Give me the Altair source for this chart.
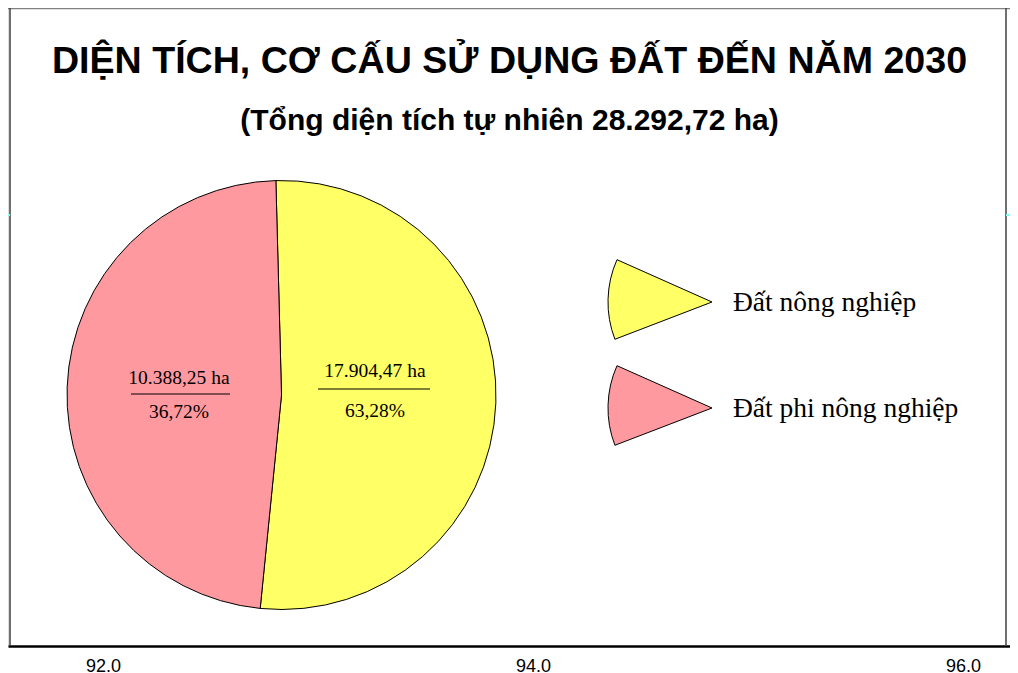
import math
import altair as alt
import pandas as pd

# ---- data ----
categories = ["Đất nông nghiệp", "Đất phi nông nghiệp"]
drawn_share = [52.0, 48.0]            # slice sizes as drawn in the picture (%)
area_labels = ["17.904,47 ha", "10.388,25 ha"]
pct_labels = ["63,28%", "36,72%"]
colors = ["#FFFF66", "#FF99A0"]
x_ticks = [92.0, 94.0, 96.0]

title_text = "DIỆN TÍCH, CƠ CẤU SỬ DỤNG ĐẤT ĐẾN NĂM 2030"
subtitle_text = "(Tổng diện tích tự nhiên 28.292,72 ha)"

W, H = 1002, 638
start = 2 * math.pi - math.radians(1.5)

pie_df = pd.DataFrame({"cat": categories, "share": drawn_share, "idx": [0, 1]})
leg_df = pd.DataFrame({"cat": categories})
tick_df = pd.DataFrame({"v": x_ticks})

color_scale = alt.Scale(domain=categories, range=colors)

cx, cy, R = 273.5, 387, 214.5

pie = alt.Chart(pie_df).mark_arc(stroke="black", strokeWidth=1).encode(
    theta=alt.Theta("share:Q", stack=True,
                    scale=alt.Scale(range=[start, start + 2 * math.pi])),
    order=alt.Order("idx:Q"),
    color=alt.Color("cat:N", scale=color_scale, legend=None),
    x=alt.value(cx), y=alt.value(cy), radius=alt.value(R),
)

serif = "Liberation Serif"

def txt(s, x, y, size, font=serif, weight="normal", align="center"):
    return alt.Chart(pd.DataFrame({"t": [s]})).mark_text(
        font=font, fontSize=size, fontWeight=weight, align=align,
        baseline="middle", color="black"
    ).encode(text="t:N", x=alt.value(x), y=alt.value(y))

def rule(x1, x2, y1, y2, color="black", w=1.0):
    return alt.Chart(pd.DataFrame({"a": [0]})).mark_rule(
        color=color, strokeWidth=w
    ).encode(x=alt.value(x1), x2=alt.value(x2), y=alt.value(y1), y2=alt.value(y2))

labels = [
    txt(area_labels[1], 171, 370, 19.5),
    rule(123, 222, 386, 386),
    txt(pct_labels[1], 171, 404, 19.5),
    txt(area_labels[0], 367, 363, 19.5),
    rule(310, 422, 381, 381),
    txt(pct_labels[0], 367, 403, 19.5),
]

leg_y = alt.Y("cat:N", scale=alt.Scale(type="point", domain=categories,
                                       range=[294, 400], padding=0), axis=None)

leg_wedges = alt.Chart(leg_df).mark_arc(
    stroke="black", strokeWidth=1,
    theta=math.radians(249), theta2=math.radians(294), radius=104
).encode(
    x=alt.value(704), y=leg_y,
    color=alt.Color("cat:N", scale=color_scale, legend=None),
)

leg_text = alt.Chart(leg_df).mark_text(
    font=serif, fontSize=27.5, align="left", baseline="alphabetic", dy=9, color="black"
).encode(x=alt.value(725), y=leg_y, text="cat:N")

titles = [
    txt(title_text, 501.5, 54, 37.6, font="Liberation Sans", weight="bold"),
    txt(subtitle_text, 501.5, 113, 30, font="Liberation Sans", weight="bold"),
]

frame = [
    rule(0, W, 0.5, 0.5, color="#808080", w=1.5),
    rule(2, 2, 0, H, color="#404040", w=1.5),
    rule(998, 998, 0, H, color="#404040", w=1.5),
    rule(0, 2, 207, 207, color="#80FFFF", w=2),
    rule(998, W, 207, 207, color="#80FFFF", w=2),
]

axis_layer = alt.Chart(tick_df).mark_tick(opacity=0).encode(
    x=alt.X("v:Q", scale=alt.Scale(domain=[91.558, 96.219], nice=False, zero=False),
            axis=alt.Axis(values=x_ticks, format=".1f", title=None, grid=False,
                          ticks=False, domainColor="black", domainWidth=2.5,
                          labelFont="Liberation Sans", labelFontSize=18,
                          labelColor="black", labelPadding=11)),
    y=alt.value(H),
)

chart = alt.layer(
    axis_layer, *frame, pie, *labels, leg_wedges, leg_text, *titles
).properties(
    width=W, height=H,
    autosize=alt.AutoSizeParams(type="none"),
    padding={"left": 0, "top": 0, "right": 0, "bottom": 27},
).configure_view(stroke=None).configure(background="white")

chart.save("out.html", embed_options={"renderer": "svg", "actions": False})
